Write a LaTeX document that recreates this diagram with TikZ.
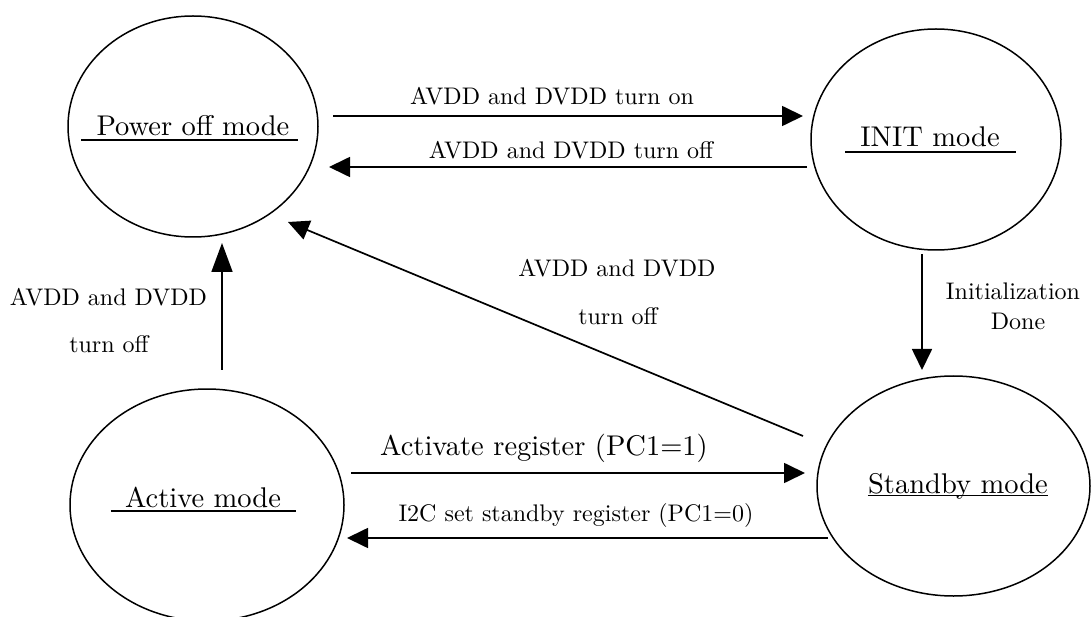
\documentclass[tikz,border=0pt]{standalone}
\usepackage{fontspec}
\setmainfont{lmroman10-regular.otf}
\usetikzlibrary{arrows.meta,shapes.geometric,calc}
\begin{document}
\begin{tikzpicture}[x=1pt,y=-1pt,
  state/.style={ellipse, draw, line width=1.5pt, inner sep=0pt, outer sep=0pt},
  statename/.style={inner sep=0pt, anchor=base, font=\fontsize{28.5}{34}\selectfont},
  edgelabel/.style={inner sep=0pt, anchor=base, font=\fontsize{24}{29}\selectfont},
  transition/.style={line width=1.7pt, -{Triangle[length=21pt,width=20pt]}},
  longhead/.style={-{Triangle[length=29pt,width=21pt]}},
  uline/.style={line width=1.8pt}]

\useasboundingbox (0,0) rectangle (1092,617);

% states
\node[state, minimum width=250pt, minimum height=221pt] (pw)   at (193,126.5) {};
\node[state, minimum width=250pt, minimum height=221pt] (init) at (936,139.5) {};
\node[state, minimum width=274pt, minimum height=232pt] (act)  at (207,505) {};
\node[state, minimum width=273pt, minimum height=220pt] (stb)  at (953.5,486) {};

% state names with underlines
\node[statename] (pwt)   at (193,136) {Power off mode};
\node[statename] (initt) at (930,147) {INIT mode};
\node[statename] (actt)  at (203,507) {Active mode};
\node[statename] (stbt)  at (958,493) {Standby mode};

\draw[uline] ([xshift=-15pt,yshift=-4pt]pwt.base west) -- ([xshift=8pt,yshift=-4pt]pwt.base east);
\draw[uline] ([xshift=-15pt,yshift=-5pt]initt.base west) -- ([xshift=16pt,yshift=-5pt]initt.base east);
\draw[uline] ([xshift=-14pt,yshift=-4pt]actt.base west) -- ([xshift=15pt,yshift=-4pt]actt.base east);
\draw[uline] ([yshift=-2.5pt]stbt.base west) -- ([yshift=-2.5pt]stbt.base east);

% transitions
\draw[transition] ($(pw.east)+(15,-10.5)$) -- ($(init.west)+(-8,-23.5)$);
\draw[transition] ($(init.west)+(-4,27.5)$) -- ($(pw.east)+(11,40.5)$);
\draw[transition] ($(stb.west)+(-14,-50)$) -- ($(pw.center)+(95,95.5)$);
\draw[transition, longhead] ($(act.north)+(15,-19)$) -- ($(pw.south)+(29,6)$);
\draw[transition] ($(init.south)+(-14,4)$) -- ($(stb.north)+(-31.5,-6)$);
\draw[transition] ($(act.east)+(7,-32)$) -- ($(stb.west)+(-12,-13)$);
\draw[transition] ($(stb.west)+(11,52)$) -- ($(act.east)+(3,33)$);

% transition labels
\node[edgelabel] (l1)  at (552,105) {AVDD and DVDD turn on};
\node[edgelabel] (l2)  at (571,159) {AVDD and DVDD turn off};
\node[edgelabel] (l3a) at (617,277) {AVDD and DVDD};
\node[edgelabel] (l3b) at (618,325) {turn off};
\node[edgelabel] (l4a) at (108.5,306) {AVDD and DVDD};
\node[edgelabel] (l4b) at (109,353) {turn off};
\node[edgelabel] (l5a) at (1013,300) {Initialization};
\node[edgelabel] (l5b) at (1018,330) {Done};
\node[statename] (l6)  at (544,455) {Activate register (PC1=1)};
\node[edgelabel] (l7)  at (576,521) {I2C set standby register (PC1=0)};
\end{tikzpicture}
\end{document}
